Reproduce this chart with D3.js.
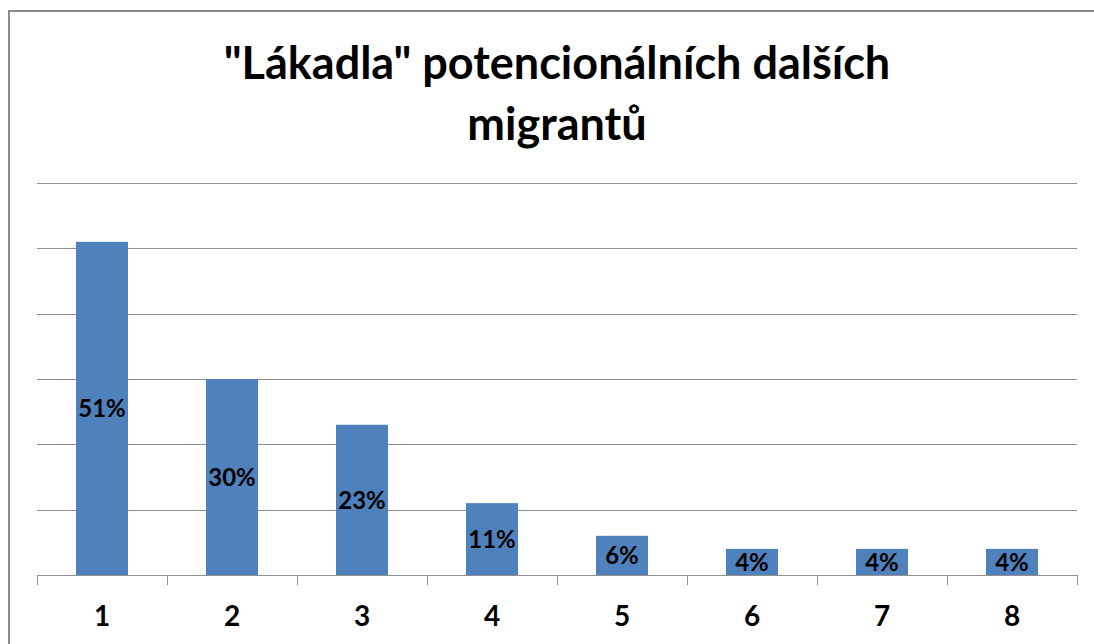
<!DOCTYPE html>
<html>
<head>
<meta charset="utf-8">
<script src="https://cdn.jsdelivr.net/npm/d3@7"></script>
<style>
  body { margin: 0; background: #fff; }
  svg { display: block; font-family: Lato, "Open Sans", sans-serif; }
</style>
</head>
<body>
<div class="chart"></div>
<script>
var categories = ["1", "2", "3", "4", "5", "6", "7", "8"];
var values = [51, 30, 23, 11, 6, 4, 4, 4];
var gridTicks = [0, 10, 20, 30, 40, 50, 60];
var titleLines = ["\"Lákadla\" potencionálních dalších", "migrantů"];

var W = 1094, H = 644;
var plotLeft = 37, plotRight = 1077, plotTop = 183, plotBottom = 575;

var svg = d3.select(".chart").append("svg")
    .attr("width", W)
    .attr("height", H);

// outer frame
svg.append("rect")
   .attr("x", 9).attr("y", 11)
   .attr("width", W + 10).attr("height", H + 10)
   .attr("fill", "none")
   .attr("stroke", "#8c8c8c")
   .attr("stroke-width", 2);

var x = d3.scaleBand().domain(categories).range([plotLeft, plotRight]).paddingInner(0.6).paddingOuter(0.3);
var xTicks = d3.scaleBand().domain(categories).range([plotLeft, plotRight]);
var y = d3.scaleLinear().domain([0, 60]).range([plotBottom, plotTop]);

// gridlines
svg.append("g").selectAll("line")
   .data(gridTicks.slice(1))
   .enter().append("line")
   .attr("x1", plotLeft).attr("x2", plotRight)
   .attr("y1", function(d) { return Math.round(y(d)) + 0.5; })
   .attr("y2", function(d) { return Math.round(y(d)) + 0.5; })
   .attr("stroke", "#8f8f8f")
   .attr("stroke-width", 1);

// bars
svg.append("g").selectAll("rect")
   .data(values)
   .enter().append("rect")
   .attr("x", function(d, i) { return x(categories[i]); })
   .attr("y", function(d) { return y(d); })
   .attr("width", x.bandwidth())
   .attr("height", function(d) { return plotBottom - y(d); })
   .attr("fill", "#4f81bd");

// bar labels
svg.append("g").selectAll("text")
   .data(values)
   .enter().append("text")
   .attr("x", function(d, i) { return x(categories[i]) + x.bandwidth() / 2; })
   .attr("y", function(d) { return (y(d) + plotBottom) / 2; })
   .attr("dy", "0.36em")
   .attr("text-anchor", "middle")
   .attr("font-size", 24)
   .attr("font-weight", "bold")
   .attr("fill", "#000")
   .text(function(d) { return d + "%"; });

// x axis: baseline + ticks between categories
var axis = svg.append("g");
axis.append("line")
    .attr("x1", plotLeft).attr("x2", plotRight)
    .attr("y1", plotBottom + 0.5).attr("y2", plotBottom + 0.5)
    .attr("stroke", "#8f8f8f");
var edges = categories.map(function(c) { return xTicks(c); }).concat([plotRight]);
axis.selectAll(".tk")
    .data(edges)
    .enter().append("line")
    .attr("x1", function(d) { return Math.round(d) + 0.5; })
    .attr("x2", function(d) { return Math.round(d) + 0.5; })
    .attr("y1", plotBottom).attr("y2", plotBottom + 10)
    .attr("stroke", "#8f8f8f");
axis.selectAll("text")
    .data(categories)
    .enter().append("text")
    .attr("x", function(d) { return xTicks(d) + xTicks.bandwidth() / 2; })
    .attr("y", 616)
    .attr("dy", "0.36em")
    .attr("text-anchor", "middle")
    .attr("font-size", 28)
    .attr("font-weight", "bold")
    .text(function(d) { return d; });

// title
svg.append("g").selectAll("text")
   .data(titleLines)
   .enter().append("text")
   .attr("x", 557)
   .attr("y", function(d, i) { return 63 + i * 61; })
   .attr("dy", "0.36em")
   .attr("text-anchor", "middle")
   .attr("font-size", 45)
   .attr("font-weight", "bold")
   .text(function(d) { return d; });
</script>
</body>
</html>
